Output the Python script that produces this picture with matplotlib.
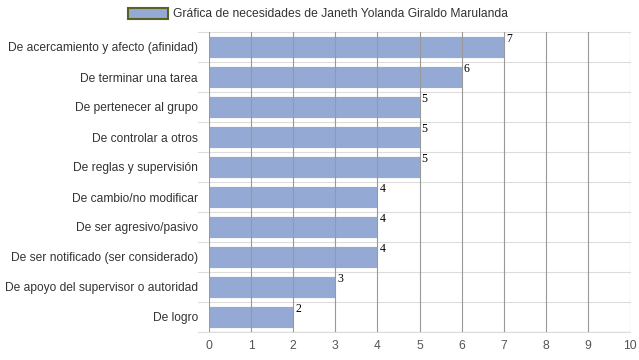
import matplotlib.pyplot as plt
from matplotlib.patches import Patch

categories = [
    'De acercamiento y afecto (afinidad)',
    'De terminar una tarea',
    'De pertenecer al grupo',
    'De controlar a otros',
    'De reglas y supervisión',
    'De cambio/no modificar',
    'De ser agresivo/pasivo',
    'De ser notificado (ser considerado)',
    'De apoyo del supervisor o autoridad',
    'De logro',
]
values = [7, 6, 5, 5, 5, 4, 4, 4, 3, 2]
x_ticks = list(range(0, 11))
legend_label = 'Gráfica de necesidades de Janeth Yolanda Giraldo Marulanda'

plt.rcParams['font.family'] = ['Liberation Sans', 'DejaVu Sans']

fig = plt.figure(figsize=(6.39, 3.6), dpi=100)
ax = fig.add_axes([209 / 639, 1 - 332 / 360, 421 / 639, 300 / 360])

pos = list(range(len(categories)))
ax.barh(pos, values, height=0.72, color='#94a9d4', edgecolor='white', linewidth=0.6, zorder=2)

# value labels at the bar ends
for p, v in zip(pos, values):
    ax.text(v + 0.05, p - 0.25, str(v), fontsize=8.5, family='Liberation Serif',
            color='black', va='center', ha='left', zorder=4)

ax.set_xlim(0, 10)
ax.set_ylim(len(categories) - 0.5, -0.5)
ax.set_xticks(x_ticks)
ax.set_yticks(pos)
ax.set_yticklabels(categories, fontsize=8.65, color='#333333')
ax.tick_params(axis='x', labelsize=8.7, labelcolor='#555555', length=0, pad=6)
ax.tick_params(axis='y', length=0, pad=8)

# gridlines: vertical at each integer (drawn over bars), horizontal between rows
for x in x_ticks:
    ax.axvline(x, color='#999999', linewidth=0.8, zorder=3)
for b in [i - 0.5 for i in range(len(categories) + 1)]:
    ax.plot([-0.27, 10], [b, b], color='#dddddd', linewidth=0.8, zorder=1, clip_on=False)

for s in ax.spines.values():
    s.set_visible(False)
ax.axhline(len(categories) - 0.5, color='#888888', linewidth=0.8, zorder=3)

handle = Patch(facecolor='#94a9d4', edgecolor='#5c6020', linewidth=1.5)
fig.legend([handle], [legend_label], loc='center', bbox_to_anchor=(0.498, 1 - 14 / 360),
           frameon=False, fontsize=8.7, handlelength=3.3, handleheight=1.0,
           handletextpad=0.45, labelcolor='#333333')

fig.savefig('out.png', dpi=100)
